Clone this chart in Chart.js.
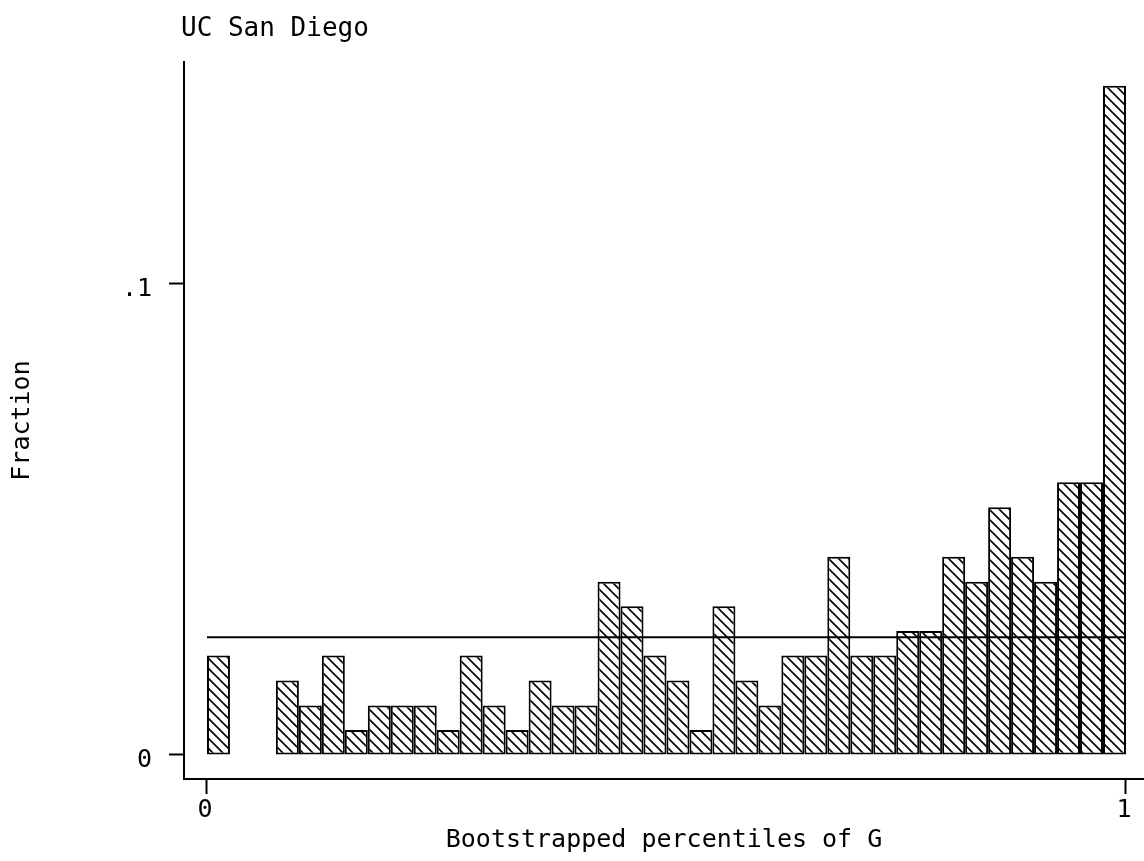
<!DOCTYPE html>
<html>
<head>
<meta charset="utf-8">
<script src="https://cdn.jsdelivr.net/npm/chart.js@4.4.1/dist/chart.umd.min.js"></script>
<style>
  html, body { margin: 0; padding: 0; background: #fff; }
  #wrap { width: 1144px; height: 861px; }
</style>
</head>
<body>
<div id="wrap"><canvas id="histChart" width="1144" height="861"></canvas></div>
<script>
// bins of width .025 from 0 to 1 (centres)
const binCentres = [
  0.0125, 0.0375, 0.0625, 0.0875, 0.1125, 0.1375, 0.1625, 0.1875, 0.2125, 0.2375,
  0.2625, 0.2875, 0.3125, 0.3375, 0.3625, 0.3875, 0.4125, 0.4375, 0.4625, 0.4875,
  0.5125, 0.5375, 0.5625, 0.5875, 0.6125, 0.6375, 0.6625, 0.6875, 0.7125, 0.7375,
  0.7625, 0.7875, 0.8125, 0.8375, 0.8625, 0.8875, 0.9125, 0.9375, 0.9625, 0.9875
];
// fraction per bin (null = empty bin)
const fractions = [
  0.0211, null,   null,   0.0158, 0.0105, 0.0211, 0.0053, 0.0105, 0.0105, 0.0105,
  0.0053, 0.0211, 0.0105, 0.0053, 0.0158, 0.0105, 0.0105, 0.0368, 0.0316, 0.0211,
  0.0158, 0.0053, 0.0316, 0.0158, 0.0105, 0.0211, 0.0211, 0.0421, 0.0211, 0.0211,
  0.0263, 0.0263, 0.0421, 0.0368, 0.0526, 0.0421, 0.0368, 0.0579, 0.0579, 0.1421
];
// uniform reference line
const refX = [0, 1];
const refY = [0.025, 0.025];
const yTickValues = [0, 0.1];
const yTickLabels = ['0', '.1'];
const xTickValues = [0, 1];
const xTickLabels = ['0', '1'];

const titleText = 'UC San Diego';
const xTitle = 'Bootstrapped percentiles of G';
const yTitle = 'Fraction';

function makeHatch() {
  const p = 10;
  const c = document.createElement('canvas');
  c.width = p; c.height = p;
  const g = c.getContext('2d');
  g.fillStyle = '#fff';
  g.fillRect(0, 0, p, p);
  g.strokeStyle = '#000';
  g.lineWidth = 1.6;
  g.beginPath();
  g.moveTo(0, 0); g.lineTo(p, p);
  g.moveTo(-2, p - 2); g.lineTo(2, p + 2);
  g.moveTo(p - 2, -2); g.lineTo(p + 2, 2);
  g.stroke();
  return document.getElementById('histChart').getContext('2d').createPattern(c, 'repeat');
}

Chart.defaults.font.family = '"DejaVu Sans Mono", "Liberation Mono", monospace';
Chart.defaults.font.size = 25;
Chart.defaults.color = '#000';

const titlePlugin = {
  id: 'plainTitle',
  afterDraw(chart) {
    const ctx = chart.ctx;
    ctx.save();
    ctx.font = '26px "DejaVu Sans Mono", monospace';
    ctx.fillStyle = '#000';
    ctx.textAlign = 'left';
    ctx.textBaseline = 'alphabetic';
    ctx.fillText(titleText, chart.chartArea.left - 3, 36);
    ctx.restore();
  }
};

const ctx = document.getElementById('histChart').getContext('2d');
new Chart(ctx, {
  type: 'bar',
  data: {
    datasets: [{
      type: 'line',
      data: refX.map((x, i) => ({ x: x, y: refY[i] })),
      borderColor: '#000',
      borderWidth: 2,
      pointRadius: 0,
      fill: false,
      order: 0
    }, {
      type: 'bar',
      data: binCentres.map((x, i) => ({ x: x, y: fractions[i] })),
      backgroundColor: makeHatch(),
      borderColor: '#000',
      borderWidth: 2,
      borderSkipped: false,
      barPercentage: 1,
      categoryPercentage: 1,
      inflateAmount: 0,
      order: 1
    }]
  },
  options: {
    responsive: false,
    animation: false,
    layout: { padding: { top: 62, left: 0, right: 0, bottom: 0 } },
    plugins: { legend: { display: false }, tooltip: { enabled: false } },
    scales: {
      x: {
        type: 'linear',
        offset: false,
        min: -0.025,
        max: 1.01961,
        afterBuildTicks: s => { s.ticks = xTickValues.map(v => ({ value: v })); },
        afterFit: s => { s.height = 82; },
        ticks: {
          padding: 1,
          autoSkip: false,
          maxRotation: 0,
          labelOffset: -2,
          callback: v => xTickLabels[xTickValues.indexOf(v)]
        },
        grid: { offset: false, drawOnChartArea: false, drawTicks: true, tickLength: 15, tickWidth: 2, tickColor: '#000' },
        border: { display: true, color: '#000', width: 2 },
        title: { display: true, text: xTitle, padding: { top: 0, bottom: 6 } }
      },
      y: {
        type: 'linear',
        min: -0.005096,
        max: 0.14713,
        afterBuildTicks: s => { s.ticks = yTickValues.map(v => ({ value: v })); },
        afterFit: s => { s.width = 184; },
        ticks: {
          padding: 17,
          autoSkip: false,
          labelOffset: 6,
          callback: v => yTickLabels[yTickValues.indexOf(v)]
        },
        grid: { drawOnChartArea: false, drawTicks: true, tickLength: 15, tickWidth: 2, tickColor: '#000' },
        border: { display: true, color: '#000', width: 2 },
        title: { display: true, text: yTitle, padding: { top: 7, bottom: 0 } }
      }
    }
  },
  plugins: [titlePlugin]
});
</script>
</body>
</html>
